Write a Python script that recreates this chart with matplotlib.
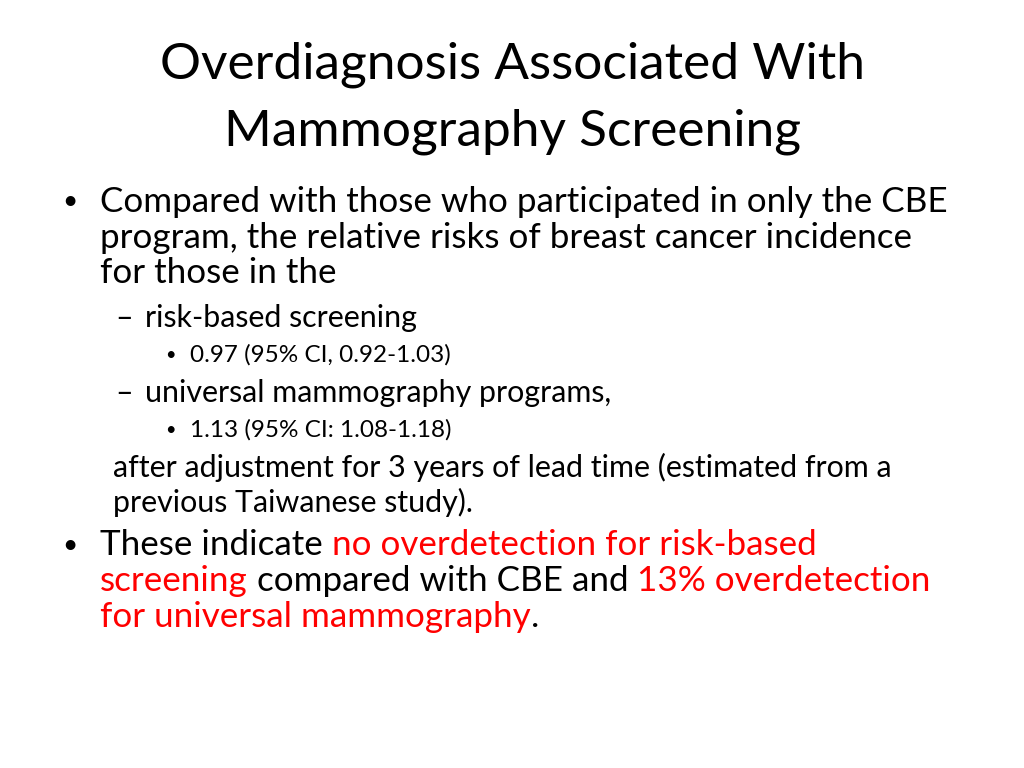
import matplotlib
matplotlib.use("Agg")
import matplotlib.pyplot as plt

title_lines = ["Overdiagnosis Associated With", "Mammography Screening"]
BLACK, RED = "black", "#ff0000"
body = [
    ("•", 62, 100, 202, 25.2, [("Compared with those who participated in only the CBE", BLACK)]),
    ("", 0, 100, 238, 25.2, [("program, the relative risks of breast cancer incidence", BLACK)]),
    ("", 0, 100, 273, 25.2, [("for those in the", BLACK)]),
    ("–", 115, 145, 318, 21.9, [("risk-based screening", BLACK)]),
    ("•", 165, 190, 355, 17.5, [("0.97 (95% CI, 0.92-1.03)", BLACK)]),
    ("–", 115, 145, 393, 21.9, [("universal mammography programs,", BLACK)]),
    ("•", 165, 190, 430, 17.5, [("1.13 (95% CI: 1.08-1.18)", BLACK)]),
    ("", 0, 113, 467, 21.9, [("after adjustment for 3 years of lead time (estimated from a", BLACK)]),
    ("", 0, 113, 502, 21.9, [("previous Taiwanese study).", BLACK)]),
    ("•", 62, 100, 545, 25.2, [("These indicate ", BLACK), ("no overdetection for risk-based", RED)]),
    ("", 0, 100, 581, 25.2, [("screening", RED), (" compared with CBE and ", BLACK), ("13% overdetection", RED)]),
    ("", 0, 100, 617, 25.2, [("for universal mammography", RED), (".", BLACK)]),
]

FONT = "Lato"
W, H = 1024, 768
fig = plt.figure(figsize=(W/100, H/100), dpi=100)
fig.patch.set_facecolor("white")
title_y = [65, 132]
for t, y in zip(title_lines, title_y):
    fig.text(512/W, 1-y/H, t, ha="center", va="center", fontsize=37, family=FONT)

fig.canvas.draw()
r = fig.canvas.get_renderer()
for bullet, bx, tx, y, size, runs in body:
    if bullet:
        bs = size * 0.75 if bullet == "•" else size
        fig.text(bx/W, 1-y/H, bullet, ha="left", va="center", fontsize=bs, family=FONT)
    x = tx
    for text, color in runs:
        t = fig.text(x/W, 1-y/H, text, ha="left", va="center", fontsize=size, family=FONT, color=color)
        x += t.get_window_extent(renderer=r).width
fig.savefig("out.png", dpi=100)
